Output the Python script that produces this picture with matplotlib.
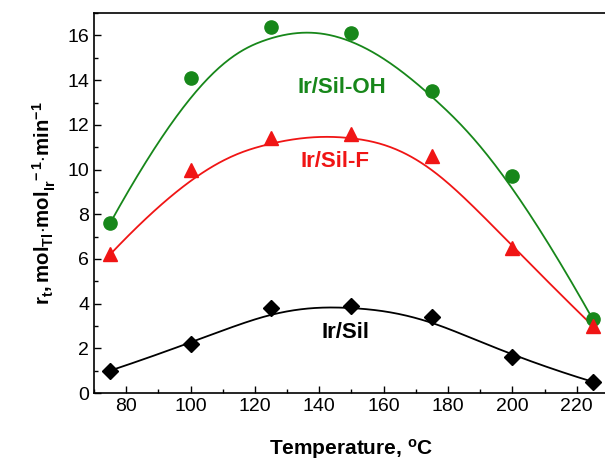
import matplotlib
matplotlib.use("Agg")
import matplotlib.pyplot as plt
from matplotlib.ticker import MultipleLocator
import numpy as np

plt.rcParams['font.family'] = ['Liberation Sans', 'DejaVu Sans']
plt.rcParams['mathtext.fontset'] = 'custom'
plt.rcParams['mathtext.rm'] = 'Liberation Sans'
plt.rcParams['mathtext.bf'] = 'Liberation Sans:bold'
plt.rcParams['mathtext.it'] = 'Liberation Sans:italic'

# data
temperature = [75, 100, 125, 150, 175, 200, 225]
rate_sil_oh = [7.6, 14.1, 16.4, 16.1, 13.5, 9.7, 3.3]
rate_sil_f = [6.2, 10.0, 11.4, 11.6, 10.6, 6.5, 3.0]
rate_sil = [1.0, 2.2, 3.8, 3.9, 3.4, 1.6, 0.5]

green = '#17871a'
red = '#f01515'


def bspline(px, py, k=3, num=300):
    # clamped uniform B-spline using the data points as control points
    px = np.asarray(px, float)
    py = np.asarray(py, float)
    n = len(px)
    knots = np.concatenate([np.zeros(k), np.arange(n - k + 1), np.full(k, n - k)]).astype(float)
    t = np.linspace(0, n - k, num)
    t[-1] -= 1e-9
    B = np.zeros((num, len(knots) - 1))
    for i in range(len(knots) - 1):
        B[:, i] = (t >= knots[i]) & (t < knots[i + 1])
    for d in range(1, k + 1):
        Bn = np.zeros((num, len(knots) - 1 - d))
        for i in range(len(knots) - 1 - d):
            a = knots[i + d] - knots[i]
            b = knots[i + d + 1] - knots[i + 1]
            left = (t - knots[i]) / a * B[:, i] if a > 0 else 0
            right = (knots[i + d + 1] - t) / b * B[:, i + 1] if b > 0 else 0
            Bn[:, i] = left + right
        B = Bn
    return B @ px, B @ py


fig = plt.figure(figsize=(6.05, 4.61), dpi=100)
ax = fig.add_axes([0.1554, 0.1475, 0.851, 0.824])

for vals, color in [(rate_sil_oh, green), (rate_sil_f, red), (rate_sil, 'black')]:
    cx, cy = bspline(temperature, vals)
    ax.plot(cx, cy, color=color, lw=1.3, zorder=2)

ax.plot(temperature, rate_sil_oh, 'o', color=green, ms=9.5, zorder=3)
ax.plot(temperature, rate_sil_f, '^', color=red, ms=10, zorder=3)
ax.plot(temperature, rate_sil, 'D', color='black', ms=8, zorder=3)

ax.text(147, 13.66, 'Ir/Sil-OH', color=green, fontsize=16, fontweight='bold', ha='center', va='center')
ax.text(145, 10.38, 'Ir/Sil-F', color=red, fontsize=16, fontweight='bold', ha='center', va='center')
ax.text(148, 2.72, 'Ir/Sil', color='black', fontsize=16, fontweight='bold', ha='center', va='center')

ax.set_xlim(70, 230)
ax.set_ylim(0, 17)
ax.xaxis.set_major_locator(MultipleLocator(20))
ax.xaxis.set_minor_locator(MultipleLocator(10))
ax.yaxis.set_major_locator(MultipleLocator(2))
ax.yaxis.set_minor_locator(MultipleLocator(1))
ax.tick_params(which='both', direction='in', top=False, right=False, labelsize=14)
ax.tick_params(which='major', length=5, width=1)
ax.tick_params(which='minor', length=3, width=1)
for s in ax.spines.values():
    s.set_linewidth(1.2)

ax.set_xlabel(r'Temperature, $\mathbf{^{o}}$C', fontsize=15, fontweight='bold', labelpad=16)
ax.set_ylabel(r'$\mathbf{r_{t}, mol_{Tl}{\cdot}mol_{Ir}^{\ \ -1}{\cdot}min^{-1}}$', fontsize=14.7, labelpad=7)

fig.savefig('out.png', dpi=100)
